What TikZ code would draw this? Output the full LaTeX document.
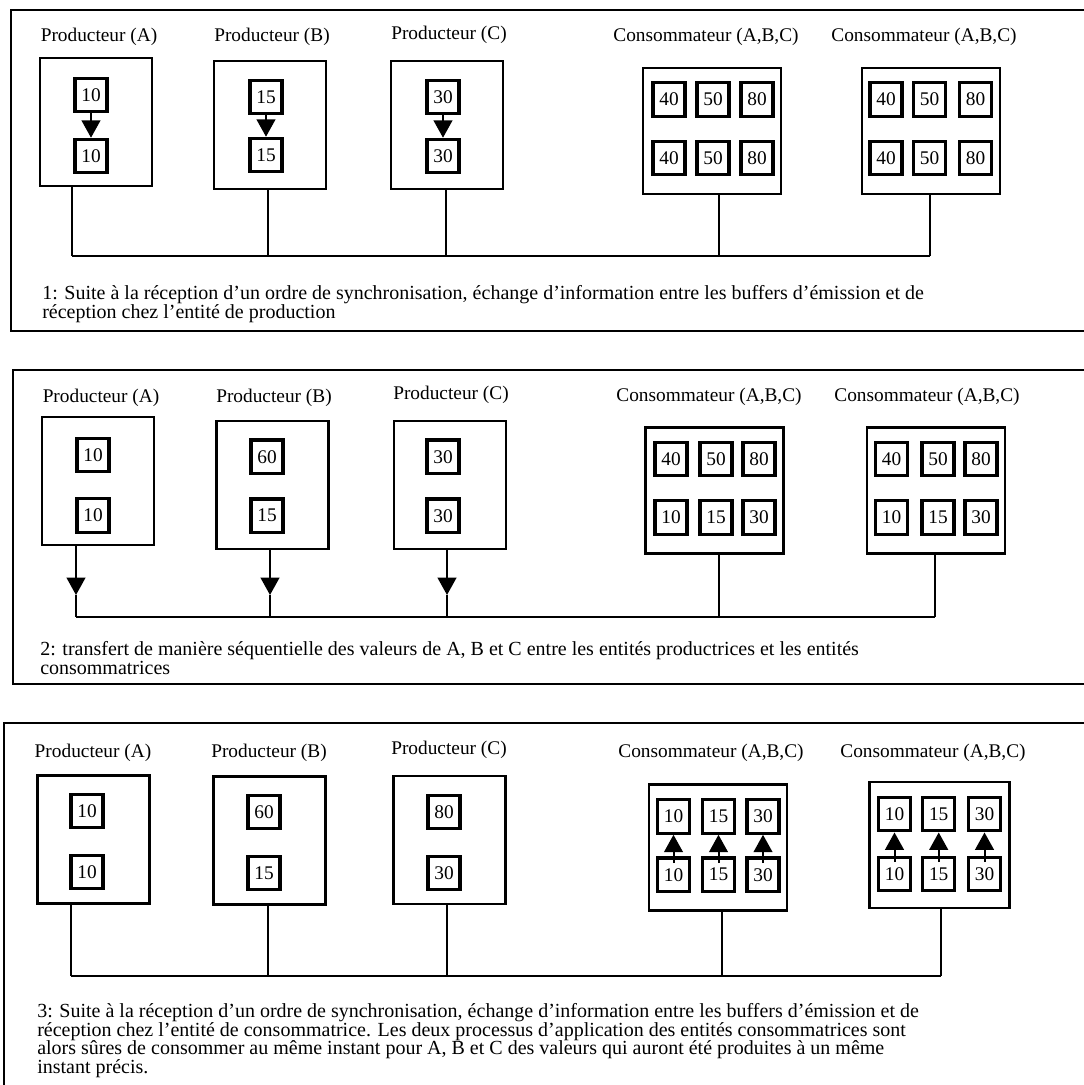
\documentclass[tikz,border=0pt]{standalone}
\usepackage{fontspec}
\setmainfont{Liberation Serif}
\usetikzlibrary{arrows.meta}
\usetikzlibrary{calc}
\tikzset{%
  >={Triangle[length=13pt,width=14pt]},
  % Specifications for style of nodes:
       base/.style = {rectangle, draw=black, inner sep=0pt,
                      font=\fontsize{14.5}{13.5}\selectfont},
    prodBox/.style = {base, line width=2pt, minimum width=84pt, minimum height=96pt},
    consBox/.style = {base, line width=2pt, minimum width=103.5pt, minimum height=94.5pt},
     buffer/.style = {base, line width=2.4pt, minimum width=24pt, minimum height=25pt},
      title/.style = {inner sep=0pt, font=\fontsize{14.5}{13.5}\selectfont},
    caption/.style = {inner sep=0pt, anchor=north west, align=left,
                      font=\fontsize{15}{14}\selectfont},
      frame/.style = {line width=1.5pt},
        bus/.style = {line width=1.5pt},
}

\begin{document}
\begin{tikzpicture}[x=0.75pt, y=-0.75pt]
  \useasboundingbox (0,0) rectangle (1084,1085);

  % ---------- 1: synchronisation chez les producteurs ----------
  \draw[frame] (11,10) rectangle (1100,331);

  \node[title] (lblA1) at (99,37)  {Producteur (A)};
  \node[title] (lblB1) at (272,37) {Producteur (B)};
  \node[title] (lblC1) at (449,35) {Producteur (C)};
  \node[title] (lblX1) at (706,37) {Consommateur (A,B,C)};
  \node[title] (lblY1) at (924,37) {Consommateur (A,B,C)};

  \node[prodBox] (prodA1) at (96,122)  {};
  \node[prodBox] (prodB1) at (270,125) {};
  \node[prodBox] (prodC1) at (447,125) {};
  \node[consBox] (consX1) at (712,131) {};
  \node[consBox] (consY1) at (931,131) {};

  \node[buffer] (emA1) at (91,95)  {10};
  \node[buffer] (reA1) at (91,156) {10};
  \node[buffer] (emB1) at (266,97)  {15};
  \node[buffer] (reB1) at (266,155) {15};
  \node[buffer] (emC1) at (443,97)  {30};
  \node[buffer] (reC1) at (443,156) {30};

  \node[buffer] (x1a) at (669,99.5) {40};
  \node[buffer] (x1b) at (713,99.5) {50};
  \node[buffer] (x1c) at (757,99.5) {80};
  \node[buffer] (x1d) at (669,158)  {40};
  \node[buffer] (x1e) at (713,158)  {50};
  \node[buffer] (x1f) at (757,158)  {80};
  \node[buffer] (y1a) at (886,99.5)   {40};
  \node[buffer] (y1b) at (929.5,99.5) {50};
  \node[buffer] (y1c) at (975.5,99.5) {80};
  \node[buffer] (y1d) at (886,158)    {40};
  \node[buffer] (y1e) at (929.5,158)  {50};
  \node[buffer] (y1f) at (975.5,158)  {80};

  \draw[->, bus] (emA1) -- (reA1);
  \draw[->, bus] (emB1) -- (reB1);
  \draw[->, bus] (emC1) -- (reC1);

  \coordinate (busA1) at (72,256);
  \coordinate (busB1) at (268,256);
  \coordinate (busC1) at (446,256);
  \coordinate (busX1) at (719,256);
  \coordinate (busY1) at (930,256);
  \draw[bus] (prodA1.south -| busA1) -- (busA1);
  \draw[bus] (prodB1.south -| busB1) -- (busB1);
  \draw[bus] (prodC1.south -| busC1) -- (busC1);
  \draw[bus] (consX1.south -| busX1) -- (busX1);
  \draw[bus] (consY1.south -| busY1) -- (busY1);
  \draw[bus] (busA1) -- (busY1);

  \node[caption] (cap1) at (42,285)
    {1: Suite à la réception d'un ordre de synchronisation, échange d'information entre les buffers d'émission et de\\
     réception chez l'entité de production};

  % ---------- 2: transfert sequentiel ----------
  \draw[frame] (13,370) rectangle (1100,684);

  \node[title] (lblA2) at (101,398) {Producteur (A)};
  \node[title] (lblB2) at (274,398) {Producteur (B)};
  \node[title] (lblC2) at (451,395) {Producteur (C)};
  \node[title] (lblX2) at (709,397) {Consommateur (A,B,C)};
  \node[title] (lblY2) at (927,397) {Consommateur (A,B,C)};

  \node[prodBox] (prodA2) at (98,481)    {};
  \node[prodBox] (prodB2) at (272.5,485) {};
  \node[prodBox] (prodC2) at (450,485)   {};
  \node[consBox] (consX2) at (714.5,490.5) {};
  \node[consBox] (consY2) at (936,490.5)   {};

  \node[buffer] (emA2) at (93,455)    {10};
  \node[buffer] (reA2) at (93,515.5)  {10};
  \node[buffer] (emB2) at (267,456.7) {60};
  \node[buffer] (reB2) at (267,515.7) {15};
  \node[buffer] (emC2) at (443,456.7) {30};
  \node[buffer] (reC2) at (443,515.7) {30};

  \node[buffer] (x2a) at (671,459)   {40};
  \node[buffer] (x2b) at (716,459)   {50};
  \node[buffer] (x2c) at (759,459)   {80};
  \node[buffer] (x2d) at (671,517.5) {10};
  \node[buffer] (x2e) at (716,517.5) {15};
  \node[buffer] (x2f) at (759,517.5) {30};
  \node[buffer] (y2a) at (891.5,459)   {40};
  \node[buffer] (y2b) at (938,459)     {50};
  \node[buffer] (y2c) at (981,459)     {80};
  \node[buffer] (y2d) at (891.5,517.5) {10};
  \node[buffer] (y2e) at (938,517.5)   {15};
  \node[buffer] (y2f) at (981,517.5)   {30};

  \coordinate (busA2) at (76,617);
  \coordinate (busB2) at (270,617);
  \coordinate (busC2) at (447,617);
  \coordinate (busX2) at (719,617);
  \coordinate (busY2) at (935,617);
  \coordinate (tipA2) at (76,595);
  \coordinate (tipB2) at (270,595);
  \coordinate (tipC2) at (447,595);
  \draw[->, bus] (prodA2.south -| busA2) -- (tipA2);
  \draw[->, bus] (prodB2.south -| busB2) -- (tipB2);
  \draw[->, bus] (prodC2.south -| busC2) -- (tipC2);
  \draw[bus] (tipA2) -- (busA2);
  \draw[bus] (tipB2) -- (busB2);
  \draw[bus] (tipC2) -- (busC2);
  \draw[bus] (consX2.south -| busX2) -- (busX2);
  \draw[bus] (consY2.south -| busY2) -- (busY2);
  \draw[bus] (busA2) -- (busY2);

  \node[caption] (cap2) at (40,641)
    {2: transfert de manière séquentielle des valeurs de A, B et C entre les entités productrices et les entités\\
     consommatrices};

  % ---------- 3: synchronisation chez les consommateurs ----------
  \draw[frame] (4,723) rectangle (1100,1100);

  \node[title] (lblA3) at (93,753)  {Producteur (A)};
  \node[title] (lblB3) at (269,753) {Producteur (B)};
  \node[title] (lblC3) at (449,750) {Producteur (C)};
  \node[title] (lblX3) at (711,753) {Consommateur (A,B,C)};
  \node[title] (lblY3) at (933,753) {Consommateur (A,B,C)};

  \node[prodBox] (prodA3) at (93.3,839.5)  {};
  \node[prodBox] (prodB3) at (269.3,840.5) {};
  \node[prodBox] (prodC3) at (449.5,840)   {};
  \node[consBox] (consX3) at (718,847.7)   {};
  \node[consBox, minimum width=105pt] (consY3) at (939.5,845) {};

  \node[buffer] (emA3) at (87,811)  {10};
  \node[buffer] (reA3) at (87,872)  {10};
  \node[buffer] (emB3) at (264,812) {60};
  \node[buffer] (reB3) at (264,873) {15};
  \node[buffer] (emC3) at (444,812) {80};
  \node[buffer] (reC3) at (444,873) {30};

  \node[buffer] (x3a) at (673.5,816.5) {10};
  \node[buffer] (x3b) at (718.5,816.5) {15};
  \node[buffer] (x3c) at (763,816.5)   {30};
  \node[buffer] (x3d) at (673.5,874.7) {10};
  \node[buffer] (x3e) at (718.5,874.7) {15};
  \node[buffer] (x3f) at (763,874.7)   {30};
  \node[buffer] (y3a) at (894.5,814.2) {10};
  \node[buffer] (y3b) at (938.7,814.2) {15};
  \node[buffer] (y3c) at (984.5,814.2) {30};
  \node[buffer] (y3d) at (894.5,873.8) {10};
  \node[buffer] (y3e) at (938.7,873.8) {15};
  \node[buffer] (y3f) at (984.5,873.8) {30};

  \draw[->, bus] ([yshift=-5pt]x3d.north) -- (x3a.south);
  \draw[->, bus] ([yshift=-5pt]x3e.north) -- (x3b.south);
  \draw[->, bus] ([yshift=-5pt]x3f.north) -- (x3c.south);
  \draw[->, bus] ([yshift=-5pt]y3d.north) -- (y3a.south);
  \draw[->, bus] ([yshift=-5pt]y3e.north) -- (y3b.south);
  \draw[->, bus] ([yshift=-5pt]y3f.north) -- (y3c.south);

  \coordinate (busA3) at (71,976);
  \coordinate (busB3) at (268,976);
  \coordinate (busC3) at (447,976);
  \coordinate (busX3) at (722,976);
  \coordinate (busY3) at (941,976);
  \draw[bus] (prodA3.south -| busA3) -- (busA3);
  \draw[bus] (prodB3.south -| busB3) -- (busB3);
  \draw[bus] (prodC3.south -| busC3) -- (busC3);
  \draw[bus] (consX3.south -| busX3) -- (busX3);
  \draw[bus] (consY3.south -| busY3) -- (busY3);
  \draw[bus] (busA3) -- (busY3);

  \node[caption] (cap3) at (37,1003)
    {3: Suite à la réception d'un ordre de synchronisation, échange d'information entre les buffers d'émission et de\\
     réception chez l'entité de consommatrice. Les deux processus d'application des entités consommatrices sont\\
     alors sûres de consommer au même instant pour A, B et C des valeurs qui auront été produites à un même\\
     instant précis.};
\end{tikzpicture}
\end{document}
